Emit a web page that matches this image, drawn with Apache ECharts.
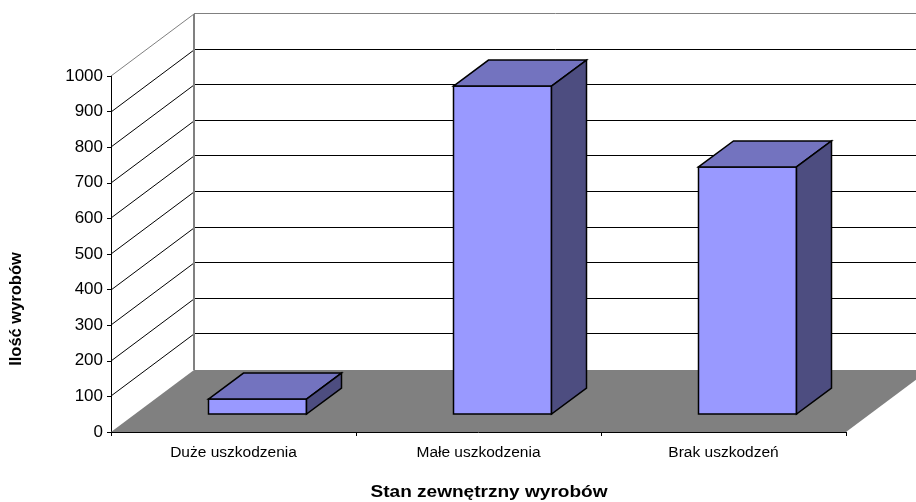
<!DOCTYPE html>
<html>
<head>
<meta charset="utf-8">
<style>html,body{margin:0;padding:0;background:#fff}#c{width:916px;height:502px}</style>
<script src="https://cdn.jsdelivr.net/npm/echarts@6/dist/echarts.min.js"></script>
</head>
<body>
<div id="c"></div>
<script>
const categories = ['Duże uszkodzenia', 'Małe uszkodzenia', 'Brak uszkodzeń'];
const counts = [42, 921, 694];
const valueTicks = [0, 100, 200, 300, 400, 500, 600, 700, 800, 900, 1000];
const xTitle = 'Stan zewnętrzny wyrobów';
const yTitle = 'Ilość wyrobów';

// Oblique projection of the depth axis, in pixels
const DEPTH_X = 83, DEPTH_Y = -62;
const BAR_DEPTH_X = 35, BAR_DEPTH_Y = -26;
const BAR_INSET_X = 24, BAR_INSET_Y = -18;
const BAR_WIDTH_SHARE = 0.4;
const FONT = '"Liberation Sans", Arial, sans-serif';

const poly = (points, fill, stroke, lineWidth) => ({
  type: 'polygon',
  shape: { points },
  style: { fill, stroke: stroke || 'none', lineWidth: lineWidth || 0 }
});
const line = (x1, y1, x2, y2, stroke, lineWidth) => ({
  type: 'line',
  shape: { x1, y1, x2, y2 },
  style: { stroke, lineWidth, fill: 'none' }
});

function renderFloor(params) {
  const g = params.coordSys;
  const yb = g.y + g.height, xl = g.x, xr = g.x + g.width;
  return poly([[xl, yb], [xr, yb], [xr + DEPTH_X, yb + DEPTH_Y], [xl + DEPTH_X, yb + DEPTH_Y]], '#808080');
}

function renderWallLine(params, api) {
  const g = params.coordSys;
  const y = Math.round(api.coord([0, api.value(0)])[1]);
  const xl = g.x, xb = g.x + DEPTH_X, yb = y + DEPTH_Y;
  const top = api.value(0) === valueTicks[valueTicks.length - 1];
  const color = top ? '#808080' : '#000';
  const children = [];
  if (api.value(0) > 0) {
    children.push(line(xl, y, xb, yb, color, 1));
    children.push(line(xb, yb - 0.5, g.x + g.width + DEPTH_X, yb - 0.5, color, 1));
  }
  return { type: 'group', children };
}

function renderBackEdge(params) {
  const g = params.coordSys;
  const x = g.x + DEPTH_X;
  return line(x, g.y + DEPTH_Y, x, g.y + g.height + DEPTH_Y, '#808080', 2);
}

function renderBar(params, api) {
  const i = api.value(0);
  const top = api.coord([i, api.value(1)]);
  const base = api.coord([i, 0]);
  const w = api.size([1, 0])[0] * BAR_WIDTH_SHARE;
  const xl = top[0] - w / 2 + BAR_INSET_X, xr = xl + w;
  const yt = top[1] + BAR_INSET_Y, yb = base[1] + BAR_INSET_Y;
  const dx = BAR_DEPTH_X, dy = BAR_DEPTH_Y;
  const edge = '#000', lw = 1.5;
  return {
    type: 'group',
    children: [
      poly([[xl, yt], [xr, yt], [xr, yb], [xl, yb]], '#9999FF', edge, lw),
      poly([[xl, yt], [xl + dx, yt + dy], [xr + dx, yt + dy], [xr, yt]], '#7373BF', edge, lw),
      poly([[xr, yt], [xr + dx, yt + dy], [xr + dx, yb + dy], [xr, yb]], '#4D4D80', edge, lw)
    ]
  };
}

const chart = echarts.init(document.getElementById('c'), null, { renderer: 'canvas' });
chart.setOption({
  animation: false,
  backgroundColor: '#fff',
  textStyle: { fontFamily: FONT },
  grid: { left: 111, right: 70, top: 76, bottom: 70, containLabel: false },
  xAxis: {
    type: 'category',
    data: categories,
    axisLine: { show: true, lineStyle: { color: '#000', width: 1 } },
    axisTick: { show: true, length: 4, lineStyle: { color: '#000' } },
    axisLabel: { color: '#000', fontSize: 15.5, fontFamily: FONT, margin: 13 },
    splitLine: { show: false }
  },
  yAxis: {
    type: 'value',
    min: 0,
    max: 1000,
    interval: 100,
    axisLine: { show: true, lineStyle: { color: '#000', width: 1 } },
    axisTick: { show: true, length: 4, lineStyle: { color: '#000' } },
    axisLabel: { color: '#000', fontSize: 17, fontFamily: FONT, margin: 8, formatter: v => String(v) },
    splitLine: { show: false }
  },
  graphic: [
    {
      type: 'text', x: 489, y: 493, z: 10, scaleX: 1.19,
      style: { text: xTitle, fill: '#000', font: 'bold 16px ' + FONT, align: 'center', verticalAlign: 'middle' }
    },
    {
      type: 'text', x: 16, y: 309, rotation: Math.PI / 2, z: 10,
      style: { text: yTitle, fill: '#000', font: 'bold 16.5px ' + FONT, align: 'center', verticalAlign: 'middle' }
    }
  ],
  series: [
    { type: 'custom', z: 1, silent: true, data: [[0]], renderItem: renderFloor },
    { type: 'custom', z: 2, silent: true, data: valueTicks.map(v => [v]), encode: { y: 0 }, renderItem: renderWallLine },
    { type: 'custom', z: 3, silent: true, data: [[0]], renderItem: renderBackEdge },
    {
      type: 'custom', z: 4,
      data: counts.map((v, i) => [i, v]),
      encode: { x: 0, y: 1 },
      renderItem: renderBar
    }
  ]
});
</script>
</body>
</html>
